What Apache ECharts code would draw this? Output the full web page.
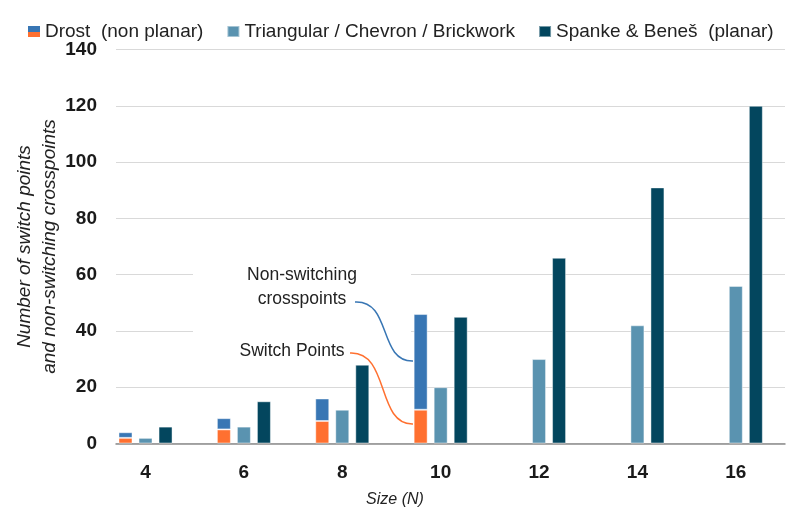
<!DOCTYPE html>
<html>
<head>
<meta charset="utf-8">
<script src="https://cdn.jsdelivr.net/npm/echarts@6/dist/echarts.min.js"></script>
<style>
  html, body { margin: 0; padding: 0; background: #fff; }
  #chart { width: 789px; height: 515px; }
</style>
</head>
<body>
<div id="chart"></div>
<script>
// ---- data ----
const sizes          = [4, 6, 8, 10, 12, 14, 16];
const drostSwitch    = [2, 5, 8, 12, null, null, null];
const drostNonSwitch = [2, 4, 8, 34, null, null, null];
const triangular     = [2, 6, 12, 20, 30, 42, 56];
const spanke         = [6, 15, 28, 45, 66, 91, 120];

const C_ORANGE = '#FF7030';
const C_BLUE   = '#3876B4';
const C_LIGHT  = '#5A93B0';
const C_DARK   = '#03465E';
const FONT     = 'Liberation Sans';

// value first, size second: keeps the stack on the y values
function pairs(arr) {
    return sizes.map((s, i) => [arr[i], s]);
}

const drostIcon = 'image://data:image/svg+xml;utf8,' + encodeURIComponent(
    '<svg xmlns="http://www.w3.org/2000/svg" width="12" height="11">' +
    '<rect width="12" height="6" fill="' + C_BLUE + '"/>' +
    '<rect y="6" width="12" height="5" fill="' + C_ORANGE + '"/></svg>');

const barBase = {
    type: 'bar',
    barWidth: 14,
    barGap: '43%',
    encode: { x: 1, y: 0 },
    itemStyle: { borderColor: 'rgba(255,255,255,0.45)', borderWidth: 1 }
};

const option = {
    animation: false,
    textStyle: { fontFamily: FONT },
    grid: { left: 116, right: 4, top: 49.5, bottom: 71.5, outerBoundsMode: 'none', containLabel: false },
    legend: {
        left: 28, top: 22, padding: 0,
        itemWidth: 12, itemHeight: 11, itemGap: 23,
        textStyle: { fontSize: 19, color: '#222', fontFamily: FONT },
        data: [
            { name: 'Drost  (non planar)', icon: drostIcon },
            { name: 'Triangular / Chevron / Brickwork', icon: 'rect' },
            { name: 'Spanke & Beneš  (planar)', icon: 'rect' }
        ]
    },
    xAxis: {
        type: 'value',
        min: 3.4, max: 17,
        axisLine: { show: true, onZero: false, lineStyle: { color: '#8c8c8c', width: 1.5 } },
        axisTick: { show: false },
        splitLine: { show: false },
        axisLabel: {
            customValues: sizes,
            fontSize: 19, fontWeight: 'bold', color: '#1a1a1a', margin: 20
        }
    },
    yAxis: {
        type: 'value',
        min: 0, max: 140, interval: 20,
        name: 'Number of switch points\nand non-switching crosspoints',
        nameLocation: 'middle', nameRotate: 90, nameGap: 54, nameMoveOverlap: false,
        nameTextStyle: { fontSize: 19, fontStyle: 'italic', color: '#222', lineHeight: 25 },
        axisLine: { show: false },
        axisTick: { show: false },
        splitLine: { lineStyle: { color: '#d9d9d9', width: 1.2 } },
        axisLabel: { fontSize: 19, fontWeight: 'bold', color: '#1a1a1a', margin: 19 }
    },
    series: [
        Object.assign({}, barBase, {
            name: 'Switch Points', stack: 'drost',
            color: C_ORANGE, data: pairs(drostSwitch)
        }),
        Object.assign({}, barBase, {
            name: 'Drost  (non planar)', stack: 'drost',
            color: C_BLUE, data: pairs(drostNonSwitch)
        }),
        Object.assign({}, barBase, {
            name: 'Triangular / Chevron / Brickwork',
            color: C_LIGHT, data: pairs(triangular)
        }),
        Object.assign({}, barBase, {
            name: 'Spanke & Beneš  (planar)',
            color: C_DARK, data: pairs(spanke)
        })
    ],
    graphic: [
        {
            // white box behind the annotation text hides the gridlines there
            type: 'rect', z: 5,
            shape: { x: 193, y: 258, width: 218, height: 88 },
            style: { fill: '#fff' }
        },
        {
            type: 'text', x: 302, y: 287, z: 6,
            style: {
                text: 'Non-switching\ncrosspoints', fill: '#222', font: '17.5px ' + FONT,
                align: 'center', verticalAlign: 'middle', lineHeight: 24
            }
        },
        {
            type: 'text', x: 292, y: 351, z: 6,
            style: {
                text: 'Switch Points', fill: '#222', font: '17.5px ' + FONT,
                align: 'center', verticalAlign: 'middle'
            }
        },
        {
            type: 'bezierCurve', z: 6,
            shape: { x1: 355, y1: 302, cpx1: 392, cpy1: 300, cpx2: 378, cpy2: 362, x2: 413, y2: 361 },
            style: { stroke: C_BLUE, lineWidth: 1.5, fill: null }
        },
        {
            type: 'bezierCurve', z: 6,
            shape: { x1: 350, y1: 353, cpx1: 390, cpy1: 351, cpx2: 376, cpy2: 425, x2: 413, y2: 424 },
            style: { stroke: C_ORANGE, lineWidth: 1.5, fill: null }
        },
        {
            type: 'text', x: 395, y: 500,
            style: {
                text: 'Size (N)', fill: '#222', font: 'italic 16px ' + FONT,
                align: 'center', verticalAlign: 'middle'
            }
        }
    ]
};

const chart = echarts.init(document.getElementById('chart'), null, { renderer: 'canvas' });
chart.setOption(option);
window.addEventListener('resize', chart.resize);
</script>
</body>
</html>
